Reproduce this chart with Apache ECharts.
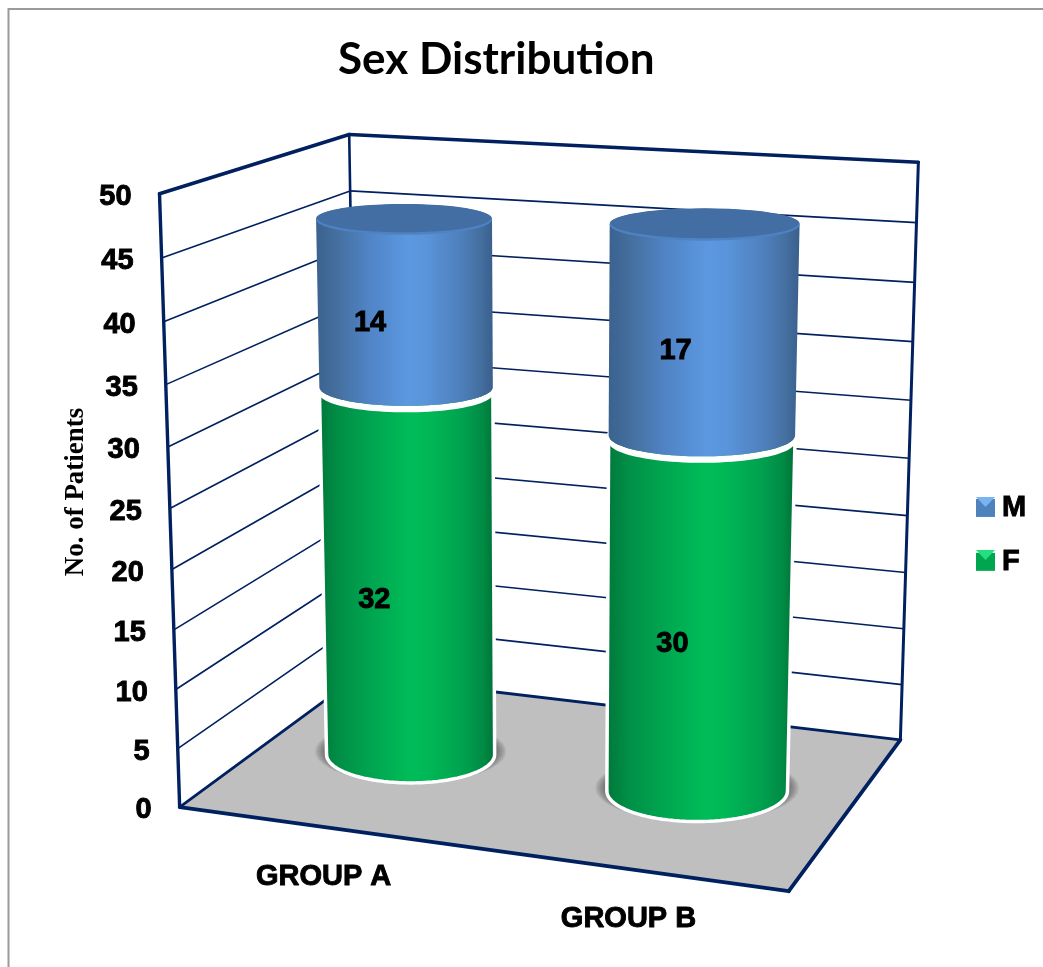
<!DOCTYPE html>
<html>
<head>
<meta charset="utf-8">
<title>Sex Distribution</title>
<style>html,body{margin:0;padding:0;background:#fff}#chart{width:1043px;height:967px}</style>
<script src="https://cdn.jsdelivr.net/npm/echarts@6/dist/echarts.min.js"></script>
</head>
<body>
<div id="chart"></div>
<script>
// Chart data
const groups = ['GROUP A', 'GROUP B'];
const femaleCounts = [32, 30];
const maleCounts = [14, 17];
const valueTicks = [0, 5, 10, 15, 20, 25, 30, 35, 40, 45, 50];
const valueMax = 50;

// Box corners and wall ticks of the 3D scene: [x (0-1), value, depth (0-1)] -> [screen x, screen y]
const sceneAnchors = [
  [0, 0, 0, 180, 808], [1, 0, 0, 788, 891], [1, 0, 1, 901, 740], [0, 0, 1, 358, 675],
  [0, 50, 0, 158.5, 193], [0, 50, 1, 349, 135], [1, 50, 1, 919, 162],
  [0, 45, 1, 350, 191], [1, 45, 1, 916, 223], [0, 45, 0, 163, 258], [1, 25, 1, 909, 458]
];

// Fit a projective camera to the anchors by least squares
function solve(A, b) {
  const n = b.length;
  for (let i = 0; i < n; i++) {
    let piv = i;
    for (let r = i + 1; r < n; r++) if (Math.abs(A[r][i]) > Math.abs(A[piv][i])) piv = r;
    [A[i], A[piv]] = [A[piv], A[i]];
    [b[i], b[piv]] = [b[piv], b[i]];
    for (let r = i + 1; r < n; r++) {
      const f = A[r][i] / A[i][i];
      for (let c = i; c < n; c++) A[r][c] -= f * A[i][c];
      b[r] -= f * b[i];
    }
  }
  const out = new Array(n).fill(0);
  for (let i = n - 1; i >= 0; i--) {
    let s = b[i];
    for (let c = i + 1; c < n; c++) s -= A[i][c] * out[c];
    out[i] = s / A[i][i];
  }
  return out;
}
function fitCamera(pts) {
  const rows = [], rhs = [];
  pts.forEach(([x, v, z, X, Y]) => {
    const t = v / valueMax, sx = X / 1000, sy = Y / 1000;
    rows.push([x, t, z, 1, 0, 0, 0, 0, -sx * x, -sx * t, -sx * z]); rhs.push(sx);
    rows.push([0, 0, 0, 0, x, t, z, 1, -sy * x, -sy * t, -sy * z]); rhs.push(sy);
  });
  const n = 11;
  const N = Array.from({ length: n }, () => new Array(n).fill(0));
  const m = new Array(n).fill(0);
  rows.forEach((r, k) => {
    for (let i = 0; i < n; i++) {
      m[i] += r[i] * rhs[k];
      for (let j = 0; j < n; j++) N[i][j] += r[i] * r[j];
    }
  });
  return solve(N, m);
}
const cam = fitCamera(sceneAnchors);
function project(x, v, z) {
  const t = v / valueMax;
  const w = cam[8] * x + cam[9] * t + cam[10] * z + 1;
  return [
    1000 * (cam[0] * x + cam[1] * t + cam[2] * z + cam[3]) / w,
    1000 * (cam[4] * x + cam[5] * t + cam[6] * z + cam[7]) / w
  ];
}

// Cylinder footprint in scene units and mid-depth of the bars
const RX = 0.152, RZ = 0.21, MID_Z = 0.5, LABEL_Z = 0.3;
const NAVY = '#002060';
const axisFont = 'bold 29px "Liberation Sans", Arial, sans-serif';
const lg = (stops) => new echarts.graphic.LinearGradient(0, 0, 1, 0, stops.map((c) => ({ offset: c[0], color: c[1] })));

// Read a scene position from the hidden axes
function scenePoint(api, cat, val) {
  const p = api.coord([cat, val]);
  return [p[0] / api.getWidth(), (api.getHeight() - p[1]) / api.getHeight() * valueMax];
}
// Horizontal cross-section of a cylinder at a given value
function section(api, cat, val) {
  const [x, v] = scenePoint(api, cat, val);
  const c = project(x, v, MID_Z);
  const hw = (project(x + RX, v, MID_Z)[0] - project(x - RX, v, MID_Z)[0]) / 2;
  const ry = (project(x, v, MID_Z - RZ)[1] - project(x, v, MID_Z + RZ)[1]) / 2;
  return { cx: c[0], cy: c[1], hw, ry };
}
function arc(s, from, to, dy) {
  const pts = [], n = 48;
  for (let i = 0; i <= n; i++) {
    const a = from + (to - from) * i / n;
    pts.push([s.cx + s.hw * Math.cos(a), s.cy + (dy || 0) + s.ry * Math.sin(a)]);
  }
  return pts;
}
function poly(points, style) { return { type: 'polygon', shape: { points }, style }; }
function line(a, b, width) {
  return { type: 'line', shape: { x1: a[0], y1: a[1], x2: b[0], y2: b[1] },
    style: { stroke: NAVY, lineWidth: width, lineCap: 'round' } };
}
function boldText(text, x, y, align) {
  return { type: 'text', x, y,
    style: { text, font: axisFont, fill: '#000', stroke: '#000', lineWidth: 0.9,
      align, verticalAlign: 'middle' } };
}
function valueLabel(api, cat, base, count) {
  const [x, v] = scenePoint(api, cat, base + count / 2);
  const p = project(x, v, LABEL_Z);
  return boldText(String(count), p[0], p[1] + 3, 'center');
}

// Walls, floor, gridlines and axis text
function renderBox(params, api) {
  const kids = [];
  kids.push(poly([project(0, 0, 0), project(1, 0, 0), project(1, 0, 1), project(0, 0, 1)], { fill: '#bfbfbf' }));
  valueTicks.forEach((tick) => {
    if (tick === 0 || tick === valueMax) return;
    const [, v] = scenePoint(api, 0, tick);
    kids.push(line(project(0, v, 0), project(0, v, 1), 1.6));
    kids.push(line(project(0, v, 1), project(1, v, 1), 1.6));
  });
  const [, top] = scenePoint(api, 0, valueMax);
  const FLB = project(0, 0, 0), FRB = project(1, 0, 0), BRB = project(1, 0, 1), BLB = project(0, 0, 1);
  const FLT = project(0, top, 0), BLT = project(0, top, 1), BRT = project(1, top, 1);
  kids.push(line(BLB, BRB, 2.8), line(FLB, BLB, 2.8), line(BLT, BLB, 2.6), line(BRT, BRB, 3));
  kids.push(line(FLT, FLB, 3.4), line(FLT, BLT, 3.6), line(BLT, BRT, 3.4));
  kids.push(line(FLB, FRB, 3.8), line(FRB, BRB, 3.8));

  valueTicks.forEach((tick) => {
    const [, v] = scenePoint(api, 0, tick);
    const p = project(0, v, 0);
    kids.push(boldText(String(tick), p[0] - 28, p[1] + 3, 'right'));
  });
  groups.forEach((name, i) => {
    const [x] = scenePoint(api, i, 0);
    const p = project(x, 0, -0.02);
    kids.push(boldText(name, p[0] + 4, p[1] + 47, 'center'));
  });
  kids.push({ type: 'text', x: 76, y: 492, rotation: Math.PI / 2,
    style: { text: 'No. of Patients', font: 'bold 27px "Liberation Serif", serif', fill: '#000',
      align: 'center', verticalAlign: 'middle' } });
  return { type: 'group', children: kids };
}

const greenBody = [[0, '#00763a'], [0.12, '#008f46'], [0.3, '#00a550'], [0.52, '#00bc58'], [0.62, '#00b856'], [0.82, '#00a04e'], [0.93, '#008a44'], [1, '#006c36']];
const blueBody = [[0, '#3b628f'], [0.12, '#456f9f'], [0.3, '#5084c6'], [0.52, '#5c98e0'], [0.62, '#5a94da'], [0.82, '#4e7fbc'], [0.93, '#446f9f'], [1, '#3a5f8c']];

// Lower segment: soft floor shadow, body with white outline, white band above it
function renderFemale(params, api) {
  const cat = api.value(0), start = api.value(1), end = api.value(2);
  const base = section(api, cat, start), top = section(api, cat, end);
  const kids = [];
  // Stacked translucent ellipses fade the contact shadow outward
  for (let k = 6; k >= 1; k--) {
    const ring = { cx: base.cx, cy: base.cy - 3, hw: base.hw + k * 1.9, ry: base.ry + 1.5 + k * 0.3 };
    kids.push(poly(arc(ring, 0, Math.PI * 2), { fill: 'rgba(50,50,50,0.11)' }));
  }
  const silhouette = arc(base, Math.PI, 0).concat(arc(top, 0, -Math.PI));
  kids.push(poly(silhouette, { fill: lg(greenBody), stroke: '#fff', lineWidth: 3.5, lineJoin: 'round' }));
  const upper = arc(top, 0, Math.PI);
  const lower = arc(top, Math.PI, 0, 6.5);
  kids.push(poly(upper.concat(lower), { fill: '#fff' }));
  kids.push(valueLabel(api, cat, start, api.value(3)));
  return { type: 'group', children: kids };
}

// Upper segment: body plus bevelled cap
function renderMale(params, api) {
  const cat = api.value(0), start = api.value(1), end = api.value(2);
  const base = section(api, cat, start), top = section(api, cat, end);
  const kids = [];
  const silhouette = arc(base, Math.PI, 0).concat(arc(top, 0, -Math.PI));
  kids.push(poly(silhouette, { fill: lg(blueBody) }));
  const rim = { cx: top.cx, cy: top.cy + 1, hw: top.hw, ry: top.ry + 1 };
  kids.push(poly(arc(rim, 0, Math.PI * 2), { fill: '#4e82c2' }));
  const inner = { cx: top.cx, cy: top.cy - 0.5, hw: top.hw - 1, ry: top.ry };
  kids.push(poly(arc(inner, 0, Math.PI * 2), { fill: '#436ea3' }));
  kids.push(valueLabel(api, cat, start, api.value(3)));
  return { type: 'group', children: kids };
}

const femaleData = groups.map((g, i) => [i, 0, femaleCounts[i], femaleCounts[i]]);
const maleData = groups.map((g, i) => [i, femaleCounts[i], femaleCounts[i] + maleCounts[i], maleCounts[i]]);

const chart = echarts.init(document.getElementById('chart'));
chart.setOption({
  animation: false,
  backgroundColor: '#fff',
  title: {
    text: 'Sex Distribution', left: 333, top: 33,
    textStyle: { fontFamily: 'Lato', fontWeight: 'bold', fontSize: 44, color: '#000' }
  },
  grid: { left: 0, right: 0, top: 0, bottom: 0 },
  xAxis: { type: 'category', data: groups, show: false },
  yAxis: { type: 'value', min: 0, max: valueMax, interval: 5, show: false },
  legend: {
    orient: 'vertical', left: 976, top: 493, itemWidth: 19, itemHeight: 18, itemGap: 24, padding: 0,
    selectedMode: false, icon: 'rect', data: ['M', 'F'],
    textStyle: { fontFamily: 'Liberation Sans', fontWeight: 'bold', fontSize: 29, color: '#000',
      textBorderColor: '#000', textBorderWidth: 0.9, padding: [0, 0, 0, 2] }
  },
  graphic: [
    { type: 'rect', silent: true, z: -1, shape: { x: 8.5, y: 9, width: 1100, height: 1100 },
      style: { fill: 'none', stroke: '#9a9a9a', lineWidth: 2 } },
    { type: 'polygon', silent: true, z: 100, shape: { points: [[976, 497], [995, 497], [985.5, 507]] }, style: { fill: '#7ab4f0' } },
    { type: 'polygon', silent: true, z: 100, shape: { points: [[976, 550], [995, 550], [985.5, 560]] }, style: { fill: '#22e080' } }
  ],
  series: [
    { type: 'custom', name: 'box', renderItem: renderBox, data: [[0, 0]], z: 1, silent: true, clip: false },
    { type: 'custom', name: 'F', renderItem: renderFemale, data: femaleData, z: 2, silent: true, clip: false,
      encode: { x: 0, y: [1, 2] }, itemStyle: { color: '#00a550' } },
    { type: 'custom', name: 'M', renderItem: renderMale, data: maleData, z: 3, silent: true, clip: false,
      encode: { x: 0, y: [1, 2] }, itemStyle: { color: '#4f81bd' } }
  ]
});
</script>
</body>
</html>
